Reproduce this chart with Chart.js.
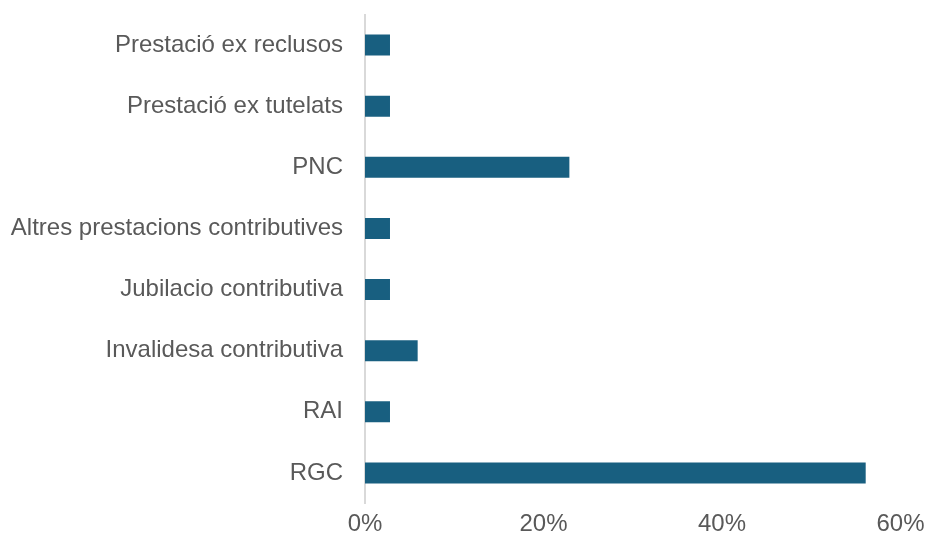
<!DOCTYPE html>
<html>
<head>
<meta charset="utf-8">
<script src="https://cdn.jsdelivr.net/npm/chart.js@4"></script>
<style>
  html, body { margin: 0; padding: 0; background: #ffffff; }
  #wrap { width: 927px; height: 543px; position: relative; }
</style>
</head>
<body>
<div id="wrap"><canvas id="c" width="927" height="543"></canvas></div>
<script>
const categories = [
  "Prestació ex reclusos",
  "Prestació ex tutelats",
  "PNC",
  "Altres prestacions contributives",
  "Jubilacio contributiva",
  "Invalidesa contributiva",
  "RAI",
  "RGC"
];
const shares = [2.8, 2.8, 22.9, 2.8, 2.8, 5.9, 2.8, 56.1];
const xTickValues = [0, 20, 40, 60];

const textColor = "#595959";
const fontFamily = "'Liberation Sans', Arial, sans-serif";

new Chart(document.getElementById("c"), {
  type: "bar",
  data: {
    labels: categories,
    datasets: [{
      data: shares,
      backgroundColor: "#185F80",
      borderWidth: 0,
      categoryPercentage: 1,
      barPercentage: 0.345
    }]
  },
  options: {
    indexAxis: "y",
    responsive: false,
    animation: false,
    devicePixelRatio: 1,
    layout: { padding: { left: 0, right: 26.5, top: 14.5, bottom: 0 } },
    plugins: { legend: { display: false }, tooltip: { enabled: false } },
    scales: {
      x: {
        min: 0,
        max: 60,
        afterBuildTicks: (s) => { s.ticks = xTickValues.map(v => ({ value: v })); },
        afterFit: (s) => { s.height = 39.5; s.paddingLeft = 0; s.paddingRight = 0; },
        grid: { display: false, drawTicks: false },
        border: { display: false },
        ticks: {
          padding: 6,
          color: textColor,
          font: { family: fontFamily, size: 24 },
          callback: (v) => v + "%"
        }
      },
      y: {
        afterFit: (s) => { s.width = 365; s.paddingTop = 0; s.paddingBottom = 0; },
        grid: { display: false, drawTicks: false },
        border: { display: true, color: "#d9d9d9", width: 2 },
        ticks: {
          padding: 22,
          color: textColor,
          font: { family: fontFamily, size: 24 }
        }
      }
    }
  }
});
</script>
</body>
</html>
